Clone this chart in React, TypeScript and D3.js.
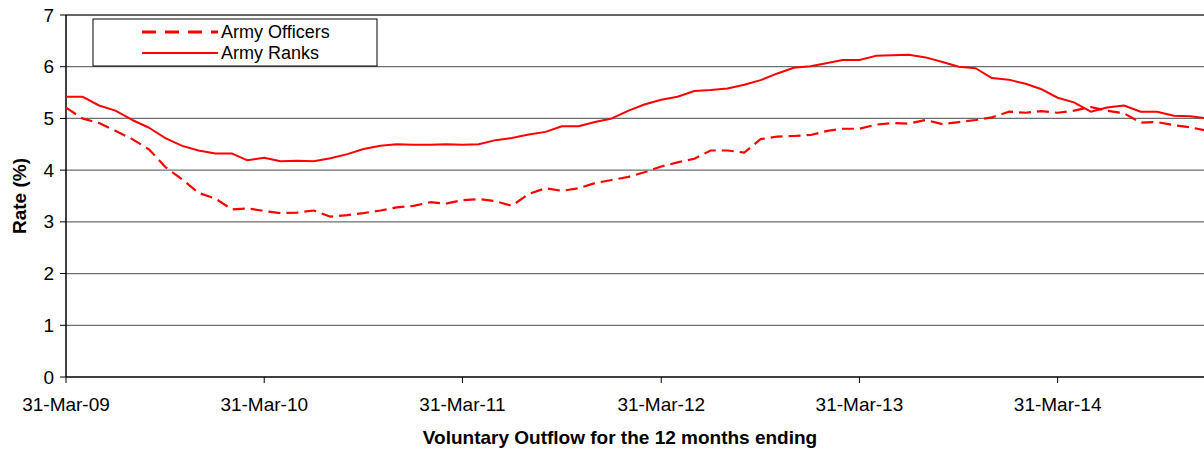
import * as d3 from 'd3';

// monthly "12 months ending" dates, 31-Mar-09 .. 31-Dec-14
const startMonth = new Date(Date.UTC(2009, 3, 1));
const months = d3.utcMonth.range(startMonth, new Date(Date.UTC(2015, 0, 2))).map((d) => d3.utcDay.offset(d, -1));

const officers = [
  5.21, 5.0, 4.91, 4.76, 4.6, 4.4, 4.06, 3.82, 3.56, 3.45, 3.24, 3.26,
  3.21, 3.17, 3.18, 3.22, 3.1, 3.13, 3.17, 3.22, 3.28, 3.31, 3.38, 3.35,
  3.42, 3.44, 3.4, 3.31, 3.54, 3.65, 3.6, 3.65, 3.75, 3.81, 3.87, 3.96,
  4.07, 4.15, 4.22, 4.38, 4.38, 4.34, 4.6, 4.65, 4.66, 4.68, 4.76, 4.8,
  4.8, 4.88, 4.91, 4.9, 4.97, 4.89, 4.93, 4.97, 5.02, 5.13, 5.11, 5.14,
  5.11, 5.15, 5.22, 5.15, 5.1, 4.92, 4.93, 4.87, 4.83, 4.76,
];

const ranks = [
  5.42, 5.42, 5.25, 5.15, 4.97, 4.82, 4.62, 4.47, 4.38, 4.32, 4.32, 4.19,
  4.24, 4.17, 4.18, 4.17, 4.23, 4.31, 4.41, 4.47, 4.5, 4.49, 4.49, 4.5,
  4.49, 4.5, 4.58, 4.62, 4.69, 4.74, 4.85, 4.85, 4.93, 5.0, 5.15, 5.27,
  5.36, 5.42, 5.53, 5.55, 5.58, 5.65, 5.74, 5.87, 5.98, 6.01, 6.07, 6.13,
  6.13, 6.21, 6.22, 6.23, 6.18, 6.09, 6.0, 5.97, 5.78, 5.75, 5.67, 5.57,
  5.4, 5.31, 5.13, 5.21, 5.25, 5.13, 5.13, 5.05, 5.04, 5.0,
];

const yTicks = [0, 1, 2, 3, 4, 5, 6, 7];
const xTickDates = [2009, 2010, 2011, 2012, 2013, 2014].map((y) => new Date(Date.UTC(y, 2, 31)));
const xTickLabels = ['31-Mar-09', '31-Mar-10', '31-Mar-11', '31-Mar-12', '31-Mar-13', '31-Mar-14'];

const width = 1204;
const height = 453;
const margin = { top: 15, left: 66, bottom: 76 };
const font = 'Arial, "Liberation Sans", sans-serif';

export default function App() {
  const x = d3
    .scaleUtc()
    .domain([months[0], months[months.length - 1]])
    .range([margin.left, 1207]);
  const y = d3.scaleLinear().domain([0, 7]).range([height - margin.bottom, margin.top]);

  const line = d3
    .line<number>()
    .x((_, i) => x(months[i]))
    .y((d) => y(d));

  const x0 = margin.left;
  const yBottom = y(0);

  return (
    <svg
      width={width}
      height={height}
      style={{ position: 'absolute', left: 0, top: 0, display: 'block', background: '#fff' }}
      fontFamily={font}
    >
      {yTicks.map((t) => (
        <g key={t}>
          {t > 0 && (
            <line x1={x0} x2={width} y1={y(t)} y2={y(t)} stroke={t === 7 ? '#333' : '#6e6e6e'} strokeWidth={1.3} />
          )}
          <line x1={x0 - 6} x2={x0} y1={y(t)} y2={y(t)} stroke="#000" />
          <text x={x0 - 12} y={y(t)} textAnchor="end" dominantBaseline="central" fontSize={19}>
            {t}
          </text>
        </g>
      ))}

      <line x1={x0} x2={width} y1={yBottom} y2={yBottom} stroke="#000" strokeWidth={1.5} />
      <line x1={x0} x2={x0} y1={margin.top} y2={yBottom} stroke="#000" strokeWidth={1.5} />

      {xTickDates.map((d, i) => (
        <g key={i}>
          <line x1={x(d)} x2={x(d)} y1={yBottom} y2={yBottom + 6} stroke="#000" />
          <text x={x(d)} y={411} textAnchor="middle" fontSize={19}>
            {xTickLabels[i]}
          </text>
        </g>
      ))}

      <path d={line(ranks) ?? ''} fill="none" stroke="#ff0000" strokeWidth={2} strokeLinejoin="round" />
      <path
        d={line(officers) ?? ''}
        fill="none"
        stroke="#ff0000"
        strokeWidth={2.2}
        strokeDasharray="12,6"
        strokeLinejoin="round"
      />

      <text x={620} y={444} textAnchor="middle" fontSize={19} fontWeight="bold">
        Voluntary Outflow for the 12 months ending
      </text>
      <text
        transform={`translate(26,${(margin.top + yBottom) / 2}) rotate(-90)`}
        textAnchor="middle"
        fontSize={19}
        fontWeight="bold"
      >
        Rate (%)
      </text>

      <g>
        <rect x={93} y={19} width={284} height={47} fill="#fff" stroke="#000" strokeWidth={1} />
        <line x1={142} x2={218} y1={32} y2={32} stroke="#ff0000" strokeWidth={3} strokeDasharray="14,9" />
        <text x={221} y={32} dominantBaseline="central" fontSize={18}>
          Army Officers
        </text>
        <line x1={142} x2={218} y1={53} y2={53} stroke="#ff0000" strokeWidth={2} />
        <text x={221} y={53} dominantBaseline="central" fontSize={18}>
          Army Ranks
        </text>
      </g>
    </svg>
  );
}
